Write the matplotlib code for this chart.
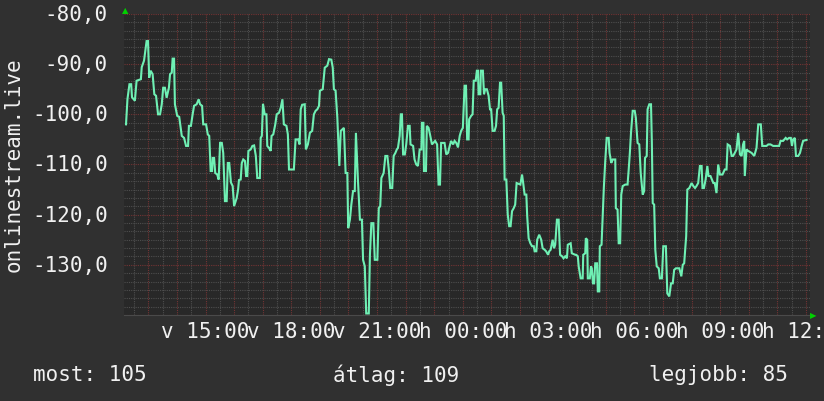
import matplotlib
matplotlib.use("Agg")
import matplotlib.pyplot as plt
import numpy as np
from matplotlib.ticker import MultipleLocator

# time in hours after 12:00 on day "v", signal in dBm
hours = [
    0.22, 0.27, 0.34, 0.40, 0.43, 0.53, 0.59, 0.74, 0.77, 0.85, 0.94, 0.99, 1.03, 1.08, 1.15,
    1.21, 1.27, 1.34, 1.41, 1.47, 1.52, 1.58, 1.64, 1.72, 1.76, 1.82, 1.85, 1.90, 1.93, 2.01,
    2.08, 2.17, 2.25, 2.32, 2.39, 2.42, 2.49, 2.55, 2.60, 2.69, 2.76, 2.81, 2.88, 2.92, 3.02,
    3.08, 3.13, 3.18, 3.23, 3.25, 3.30, 3.34, 3.41, 3.46, 3.51, 3.57, 3.62, 3.68, 3.74, 3.78,
    3.83, 3.89, 3.95, 4.00, 4.09, 4.14, 4.17, 4.23, 4.27, 4.32, 4.38, 4.42, 4.46, 4.50, 4.58,
    4.64, 4.70, 4.76, 4.81, 4.90, 4.93, 4.97, 5.01, 5.07, 5.13, 5.16, 5.22, 5.28, 5.31, 5.37,
    5.44, 5.49, 5.57, 5.63, 5.69, 5.74, 5.83, 5.88, 5.92, 6.09, 6.15, 6.24, 6.29, 6.33, 6.38,
    6.47, 6.51, 6.58, 6.65, 6.73, 6.79, 6.85, 6.91, 6.97, 7.00, 7.10, 7.17, 7.26, 7.32, 7.40,
    7.45, 7.49, 7.55, 7.61, 7.68, 7.73, 7.84, 7.90, 7.96, 7.99, 8.05, 8.10, 8.16, 8.22, 8.26,
    8.33, 8.40, 8.47, 8.51, 8.57, 8.62, 8.71, 8.75, 8.80, 8.87, 8.92, 9.01, 9.06, 9.11, 9.15,
    9.23, 9.29, 9.36, 9.41, 9.46, 9.53, 9.58, 9.64, 9.69, 9.73, 9.79, 9.83, 9.87, 9.91, 9.97,
    10.02, 10.08, 10.14, 10.17, 10.26, 10.31, 10.37, 10.43, 10.49, 10.55, 10.57, 10.62, 10.64, 10.71, 10.74,
    10.80, 10.85, 10.92, 11.03, 11.10, 11.15, 11.20, 11.24, 11.36, 11.42, 11.48, 11.54, 11.59, 11.66, 11.71,
    11.77, 11.83, 11.89, 11.94, 12.00, 12.06, 12.11, 12.15, 12.20, 12.22, 12.29, 12.34, 12.38, 12.45, 12.49,
    12.53, 12.55, 12.61, 12.63, 12.70, 12.74, 12.78, 12.84, 12.90, 12.95, 12.99, 13.04, 13.11, 13.16, 13.20,
    13.25, 13.30, 13.34, 13.39, 13.43, 13.46, 13.52, 13.57, 13.62, 13.67, 13.72, 13.78, 13.83, 13.88, 14.01,
    14.07, 14.11, 14.16, 14.22, 14.25, 14.30, 14.36, 14.42, 14.48, 14.51, 14.57, 14.60, 14.67, 14.74, 14.79,
    14.86, 14.91, 14.98, 15.02, 15.07, 15.14, 15.19, 15.23, 15.29, 15.35, 15.40, 15.47, 15.52, 15.58, 15.64,
    15.67, 15.77, 15.81, 15.93, 15.96, 16.02, 16.05, 16.12, 16.19, 16.21, 16.28, 16.30, 16.35, 16.37, 16.44,
    16.48, 16.51, 16.55, 16.59, 16.63, 16.69, 16.72, 16.77, 16.79, 16.85, 16.89, 16.93, 16.98, 17.03, 17.10,
    17.13, 17.19, 17.24, 17.33, 17.35, 17.41, 17.45, 17.50, 17.54, 17.59, 17.68, 17.76, 17.80, 17.84, 17.88,
    17.94, 18.01, 18.05, 18.11, 18.17, 18.22, 18.29, 18.34, 18.37, 18.43, 18.46, 18.52, 18.58, 18.61, 18.64,
    18.69, 18.73, 18.78, 18.85, 18.89, 18.96, 19.01, 19.10, 19.15, 19.22, 19.28, 19.34, 19.39, 19.45, 19.57,
    19.64, 19.69, 19.74, 19.81, 19.85, 19.92, 20.00, 20.06, 20.12, 20.17, 20.23, 20.29, 20.35, 20.38, 20.43,
    20.49, 20.55, 20.59, 20.66, 20.71, 20.76, 20.81, 20.87, 20.93, 20.99, 21.08, 21.16, 21.22, 21.26, 21.34,
    21.40, 21.45, 21.51, 21.57, 21.63, 21.69, 21.75, 21.80, 21.84, 21.86, 21.92, 21.98, 22.10, 22.19, 22.27,
    22.33, 22.42, 22.47, 22.62, 22.68, 22.76, 22.85, 23.06, 23.11, 23.20, 23.29, 23.34, 23.41, 23.47, 23.51,
    23.55, 23.61, 23.65, 23.73, 23.79, 23.85, 23.90, 24.02,
]
signal = [
    -102, -97, -94, -94, -96.6, -97.3, -93.3, -93, -90.6, -89.3, -85.4, -85.4, -92.7, -91.3, -92,
    -96, -96.3, -100, -100, -98, -94.7, -94.7, -96.7, -94.7, -92, -91.7, -88.9, -88.9, -98, -100.3,
    -100.5, -104.3, -104.7, -106.3, -106.3, -102.3, -102.3, -100, -98.3, -98, -97, -98, -98.3, -102, -102,
    -104, -104.3, -111.3, -111.3, -108.7, -108.7, -111.7, -112, -113, -105.7, -105.7, -107.7, -117.3, -117.3, -109.7,
    -109.7, -113.6, -114.3, -118.3, -116.7, -115, -113.1, -113, -109.7, -109, -109.3, -112.3, -112.3, -107.3, -107,
    -106.3, -106.2, -108.3, -112.7, -112.7, -104.7, -104.3, -97.9, -100, -100, -106.3, -106.7, -107.3, -104.3, -104,
    -102, -100, -99.7, -98.7, -97, -102, -102.3, -104, -111, -111, -105, -105, -106, -99, -98.1,
    -98, -107, -106, -103.7, -103.3, -100, -99.3, -99, -98.3, -95.3, -95, -90.7, -90.3, -89, -89.1,
    -90.7, -95, -95.3, -100.7, -110.3, -103.3, -102.7, -111.7, -111.7, -122.7, -121, -118, -115.3, -115.3, -103.7,
    -113, -121, -121, -129, -130.3, -139.7, -139.7, -128, -121.7, -121.7, -129, -129, -118.7, -118.3, -112.7,
    -111.7, -108.3, -108.3, -111, -114.7, -114.7, -108.3, -107.7, -107, -106.7, -104.3, -100, -100, -108, -108,
    -106, -102.3, -102.3, -106, -106.3, -109, -110, -110.3, -107, -107, -101.7, -101.7, -111.3, -111.3, -102.3,
    -102.7, -104, -106, -105.3, -106, -114, -114, -105.7, -105.7, -108, -107.7, -106.3, -105.3, -106, -105.3,
    -105.7, -106.6, -104.3, -103.3, -102.7, -94.3, -94.3, -105, -105, -101, -100.3, -100, -93.3, -93.3, -91.3,
    -91.3, -96, -96, -91.3, -91.3, -96, -95, -95, -96.3, -99, -99, -103.3, -103.3, -102.3, -99,
    -98.7, -93.7, -93.7, -99.7, -100.3, -113, -113, -120, -122.3, -122.3, -119.3, -118.7, -118, -113.7, -114,
    -112, -113.7, -116, -116, -120.3, -124.7, -125.7, -126.3, -126.3, -127.3, -127.3, -125, -124, -125, -126.7,
    -127, -127.3, -128, -127.3, -127, -125, -126.7, -126, -121, -121, -128, -128.3, -128.7, -128.3, -128.7,
    -126, -125.7, -127.7, -128, -128, -128.3, -130.3, -132.7, -132.7, -128, -127.7, -124.7, -125, -132.7, -132.7,
    -130.3, -130.7, -133.7, -133.7, -129.7, -129.7, -135.3, -135.3, -126.3, -126, -120.3, -114.7, -109.3, -104.7, -104.7,
    -107.7, -109.7, -109, -109, -118.7, -119, -125.7, -125.7, -116, -114.3, -114, -114, -111, -107.7, -103.7,
    -99.3, -99.3, -100.7, -105.7, -106, -111.7, -116, -115.3, -108.7, -108.3, -99, -98, -98, -105.7, -117.7,
    -118, -127, -130.3, -130.7, -132.7, -132.7, -126.3, -126.3, -135.7, -136.3, -133.7, -133.7, -131, -130.7, -130.7,
    -132.3, -130, -129.7, -124.3, -115, -114.7, -113.7, -114.3, -114.7, -114.3, -113.7, -110.3, -110.3, -114.7, -114.7,
    -113, -110.3, -112.3, -112.3, -113, -113.7, -113.7, -115.7, -110, -112, -112, -111, -111, -106, -106.3,
    -108.3, -108.3, -107.7, -107, -103.7, -108, -108.3, -106, -105.3, -112.3, -107, -107.3, -107.7, -108.3, -106.7,
    -102, -102, -106.3, -106.3, -106, -106, -106.3, -106.3, -105.3, -105.3, -104.7, -105, -104.7, -104.7, -106.3,
    -105, -104.7, -108.3, -108.3, -107.7, -106.3, -105.3, -105.1,
]

tick_hours = [3, 6, 9, 12, 15, 18, 21, 24]
tick_labels = ["v 15:00", "v 18:00", "v 21:00", "h 00:00", "h 03:00",
               "h 06:00", "h 09:00", "h 12:00"]
y_ticks = [-130, -120, -110, -100, -90, -80]
summary = [("most: 105", 0.040), ("átlag: 109", 0.404), ("legjobb: 85", 0.788)]

bg = "#303030"
plot_bg = "#282828"
fg = "#f0f0f0"
mono = "DejaVu Sans Mono"

fig = plt.figure(figsize=(8.24, 4.02), dpi=100, facecolor=bg)
ax = fig.add_axes([0.1505, 0.214, 0.8325, 0.7487], facecolor=plot_bg)

ax.set_xlim(0.15, 24.14)
ax.set_ylim(-140, -80)

# grid: gray dotted minor, red dotted major
ax.xaxis.set_major_locator(MultipleLocator(1))
ax.xaxis.set_minor_locator(MultipleLocator(0.5))
ax.yaxis.set_major_locator(MultipleLocator(10))
ax.yaxis.set_minor_locator(MultipleLocator(10 / 6))
ax.grid(which="minor", color="#4e4e4e", linestyle=(0, (1, 1)), linewidth=0.8)
ax.grid(which="major", color="#733434", linestyle=(0, (1, 1)), linewidth=0.8)
ax.set_axisbelow(True)

ax.plot(hours, signal, color="#6ff0b4", linewidth=1.5, solid_joinstyle="miter", zorder=3)

# tick labels drawn as text so the grid locators stay untouched
for h, lab in zip(tick_hours, tick_labels):
    ax.text(h, -141.2, lab, ha="center", va="top", color=fg, fontsize=15,
            family=mono, clip_on=False)
for v in y_ticks:
    ax.text(0.15 - 0.56, v, f"{v},0", ha="right", va="center", color=fg,
            fontsize=15, family=mono, clip_on=False)

ax.tick_params(which="both", length=0, labelbottom=False, labelleft=False)
for s in ["top", "right", "left"]:
    ax.spines[s].set_visible(False)
ax.spines["bottom"].set_color("#4a4a4a")

fig.text(0.017, 0.5895, "onlinestream.live", rotation=90, ha="center", va="center",
         color=fg, fontsize=15, family=mono)

for txt, xpos in summary:
    fig.text(xpos, 0.067, txt, ha="left", va="center", color=fg, fontsize=15, family=mono)

# small green arrow heads at the axis ends
fig.text(0.1515, 0.975, "▲", color="#00d000", fontsize=6, ha="center", va="center", family="DejaVu Sans")
fig.text(0.987, 0.214, "▶", color="#00d000", fontsize=6, ha="center", va="center", family="DejaVu Sans")

fig.savefig("out.png", dpi=100, facecolor=bg)
